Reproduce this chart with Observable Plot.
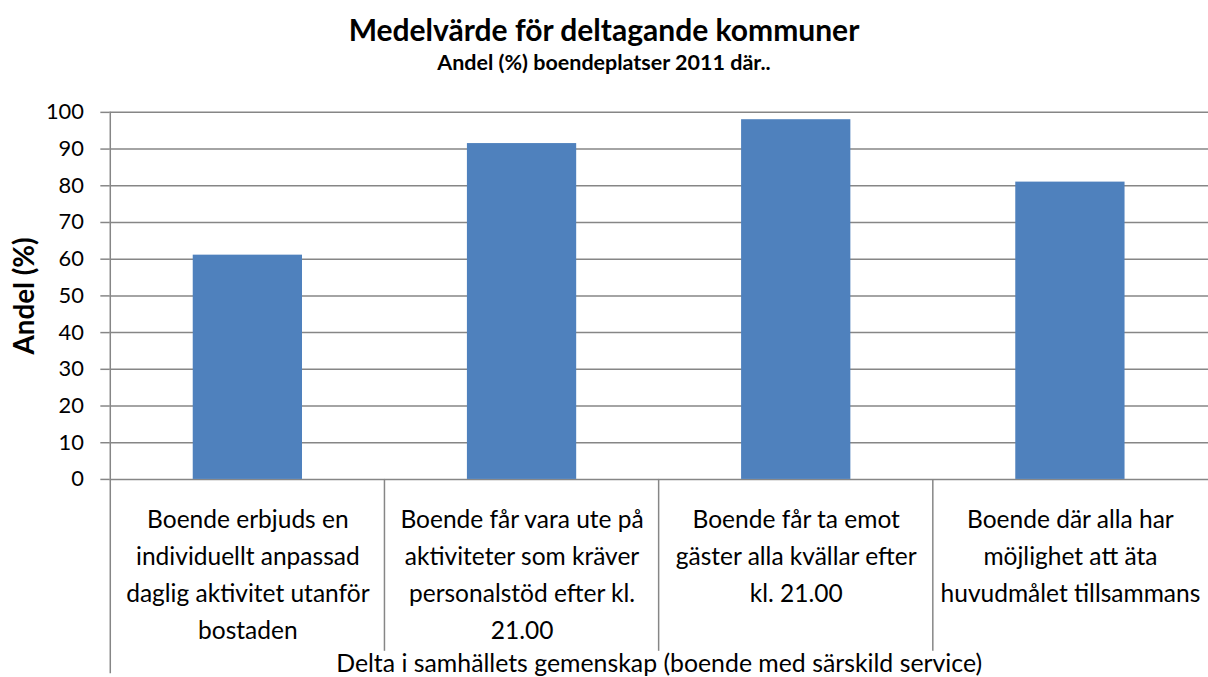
<!DOCTYPE html>
<html><head><meta charset="utf-8">
<script src="https://cdn.jsdelivr.net/npm/d3@7"></script>
<script src="https://cdn.jsdelivr.net/npm/@observablehq/plot@0.6"></script>
<style>
html,body{margin:0;padding:0;background:#fff;overflow:hidden;width:1208px;height:677px;}
#wrap{position:relative;width:1208px;height:677px;overflow:hidden;font-family:Lato,"Open Sans",sans-serif;color:#000;}
#title{position:absolute;left:0;width:1208px;top:11px;text-align:center;font-weight:700;font-size:30px;line-height:36px;}
#subtitle{position:absolute;left:0;width:1208px;top:49px;text-align:center;font-weight:700;font-size:21.5px;line-height:26px;}
#chart{position:absolute;left:0;top:92px;}
</style></head><body>
<div id="wrap">
  <div id="title">Medelvärde för deltagande kommuner</div>
  <div id="subtitle">Andel (%) boendeplatser 2011 där..</div>
  <div id="chart"></div>
</div>
<script>
const categories = [
  "Boende erbjuds en\nindividuellt anpassad\ndaglig aktivitet utanför\nbostaden",
  "Boende får vara ute på\naktiviteter som kräver\npersonalstöd efter kl.\n21.00",
  "Boende får ta emot\ngäster alla kvällar efter\nkl. 21.00",
  "Boende där alla har\nmöjlighet att äta\nhuvudmålet tillsammans"
];
const values = [61.1, 91.5, 98.0, 81.0];
const yTicks = [0, 10, 20, 30, 40, 50, 60, 70, 80, 90, 100];
const groupLabel = "Delta i samhällets gemenskap (boende med särskild service)";
const yLabel = "Andel (%)";

const data = categories.map((c, i) => ({category: c, value: values[i]}));
const gridColor = "#868686";
const barColor = "#4F81BD";
const font = "Lato, 'Open Sans', sans-serif";

const plot = Plot.plot({
  width: 1216,
  height: 585,
  marginLeft: 110,
  marginRight: 0,
  marginTop: 20,
  marginBottom: 195.5,
  style: {fontFamily: font, fontSize: "22px", color: "#000", background: "#fff", overflow: "visible"},
  x: {domain: categories, padding: 0, label: null},
  y: {domain: [0, 100], ticks: yTicks, label: null},
  marks: [
    Plot.gridY(yTicks, {stroke: gridColor, strokeOpacity: 1, strokeWidth: 1.5}),
    Plot.barY(data, {x: "category", y: "value", fill: barColor, insetLeft: 83, insetRight: 83}),
    Plot.axisY(yTicks, {tickSize: 9, tickPadding: 17, stroke: gridColor, strokeWidth: 1.5, fill: "#000", fontSize: 22, tickFormat: d => String(d), label: null}),
    Plot.axisX({tickSize: 0, tickPadding: 23, fontSize: 24.7, lineHeight: 37 / 24.7, fill: "#000", tickFormat: d => d, label: null}),
    (index, scales, values, dims) => {
      const g = d3.create("svg:g").attr("stroke", gridColor).attr("stroke-width", 1.5).attr("fill", "none");
      const x = scales.x;
      const y = scales.y;
      const y0 = y(0);
      const xl = x(categories[0]);
      g.append("line").attr("x1", xl).attr("x2", xl).attr("y1", y(100)).attr("y2", dims.height);
      categories.slice(1).forEach(c => {
        g.append("line").attr("x1", x(c)).attr("x2", x(c)).attr("y1", y0).attr("y2", y0 + 173);
      });
      return g.node();
    },
    Plot.text([groupLabel], {frameAnchor: "bottom", lineAnchor: "middle", textAnchor: "middle", dy: 186, fontSize: 25, fill: "#000"}),
    Plot.text([yLabel], {frameAnchor: "left", textAnchor: "middle", lineAnchor: "middle", rotate: -90, dx: -85, fontSize: 28, fontWeight: "bold", fill: "#000"})
  ]
});
document.getElementById("chart").appendChild(plot);
</script>
</body></html>
